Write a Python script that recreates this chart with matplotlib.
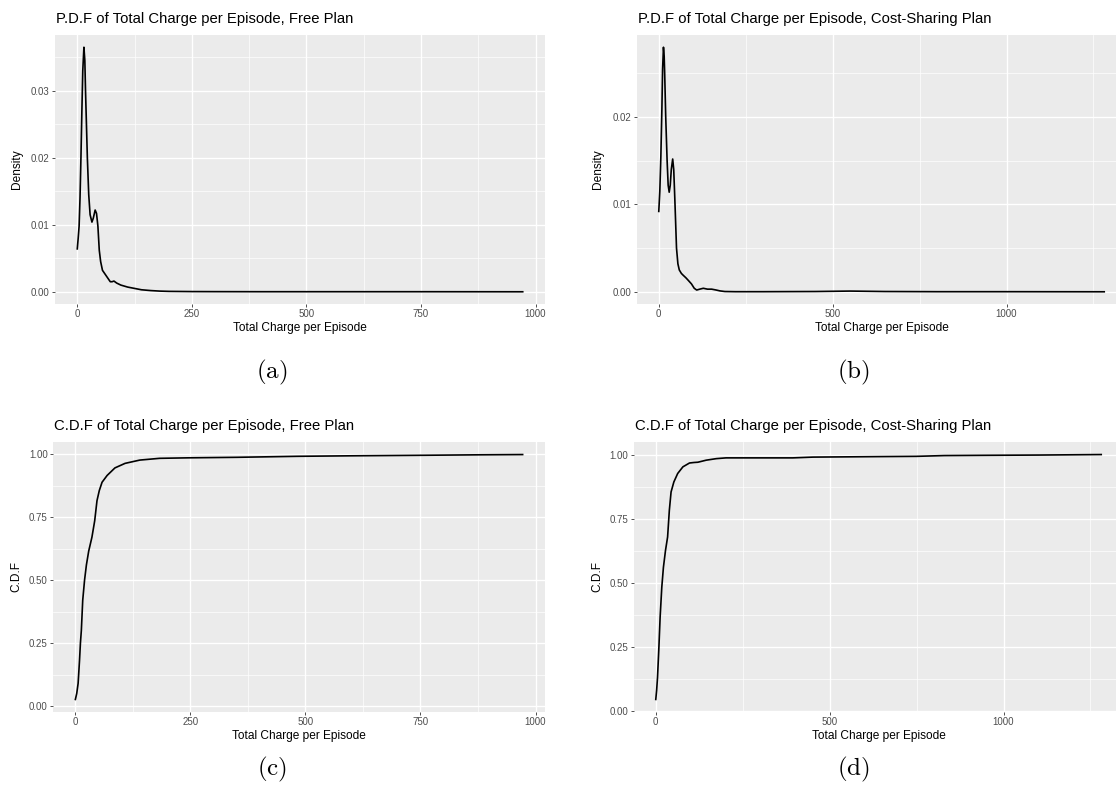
import numpy as np
import matplotlib
matplotlib.use("Agg")
import matplotlib.pyplot as plt
from matplotlib.ticker import MultipleLocator

plt.rcParams['font.family'] = ['Liberation Sans', 'DejaVu Sans']
plt.rcParams['mathtext.fontset'] = 'cm'

# density of total charge per episode, free plan
pdf_free_x = [0, 2, 4, 6, 8, 10, 12, 14.5, 16.5, 18, 20, 22, 25, 28, 32, 35, 39, 42, 45,
              48, 51, 55, 60, 66, 72, 76, 80, 86, 95, 110, 125, 140, 160, 180, 200,
              250, 300, 400, 500, 600, 750, 972]
pdf_free_y = [0.0064, 0.0080, 0.0098, 0.0140, 0.0200, 0.0268, 0.0330, 0.0365, 0.0345,
              0.0300, 0.0250, 0.0200, 0.0145, 0.0115, 0.0104, 0.0110, 0.0122, 0.0117,
              0.0098, 0.0062, 0.0045, 0.0032, 0.0027, 0.0021, 0.0015, 0.0015, 0.0016,
              0.0013, 0.0010, 0.0007, 0.0005, 0.0003, 0.00018, 0.0001, 0.00006,
              0.00003, 0.00002, 0.00001, 0.00001, 0.00001, 0.00001, 0.0]

# density, cost-sharing plan
pdf_cost_x = [0, 3, 6, 9, 11, 13.5, 15.5, 17, 20, 24, 27, 30, 33, 36, 40, 43, 46, 48, 51,
              55, 59, 65, 70, 78, 85, 94, 102, 109, 118, 128, 140, 152, 165, 176, 190,
              220, 300, 450, 550, 650, 800, 1000, 1281]
pdf_cost_y = [0.0092, 0.0115, 0.0155, 0.0210, 0.0255, 0.0280, 0.0270, 0.0250, 0.0200,
              0.0150, 0.0122, 0.0114, 0.0122, 0.0140, 0.0152, 0.0140, 0.0108, 0.0085,
              0.0050, 0.0032, 0.0025, 0.0021, 0.0019, 0.0016, 0.0013, 0.0009, 0.0004,
              0.0002, 0.0003, 0.0004, 0.0003, 0.0003, 0.0002, 0.0001, 0.00003,
              0.00001, 0.00001, 0.00003, 0.00008, 0.00003, 0.00001, 0.00001, 0.0]

# cumulative distribution, free plan
cdf_free_x = [0, 3, 6, 9, 11, 13, 16, 20, 24, 29, 36, 42, 47, 52, 58, 69, 86, 108, 140,
              183, 247, 350, 483, 600, 750, 880, 972]
cdf_free_y = [0.026, 0.05, 0.09, 0.18, 0.25, 0.30, 0.42, 0.50, 0.56, 0.615, 0.67, 0.735,
              0.815, 0.855, 0.888, 0.915, 0.945, 0.963, 0.976, 0.983, 0.985, 0.987,
              0.991, 0.993, 0.995, 0.997, 0.998]

# cumulative distribution, cost-sharing plan
cdf_cost_x = [0, 2.5, 5, 8.6, 12.5, 17.3, 22, 28, 34, 39, 44, 52, 63, 78, 97, 110, 121,
              145, 174, 202, 300, 394, 452, 550, 644, 750, 830, 950, 1100, 1281]
cdf_cost_y = [0.044, 0.08, 0.13, 0.235, 0.365, 0.482, 0.56, 0.626, 0.678, 0.782, 0.854,
              0.893, 0.926, 0.952, 0.967, 0.969, 0.970, 0.978, 0.984, 0.987, 0.987,
              0.987, 0.990, 0.991, 0.992, 0.993, 0.996, 0.997, 0.998, 1.0]

W, H = 1116, 797
fig = plt.figure(figsize=(W / 100, H / 100), dpi=100)


def panel(box, x, y, title, ylabel, xstep, ystep, tag, tag_xy, ylab_x):
    left, top, width, height = box
    ax = fig.add_axes([left / W, (H - top - height) / H, width / W, height / H])
    ax.set_facecolor('#EBEBEB')
    ax.plot(x, y, color='black', lw=1.2, zorder=3)

    # ggplot-style 5% expansion of the data range
    xr = max(x) - min(x)
    yr = max(y) - min(y)
    ax.set_xlim(min(x) - 0.05 * xr, max(x) + 0.05 * xr)
    ax.set_ylim(min(y) - 0.05 * yr, max(y) + 0.05 * yr)

    ax.xaxis.set_major_locator(MultipleLocator(xstep))
    ax.xaxis.set_minor_locator(MultipleLocator(xstep / 2))
    ax.yaxis.set_major_locator(MultipleLocator(ystep))
    ax.yaxis.set_minor_locator(MultipleLocator(ystep / 2))
    ax.yaxis.set_major_formatter(lambda v, p: '{:.2f}'.format(v))
    ax.xaxis.set_major_formatter(lambda v, p: '{:.0f}'.format(v))

    ax.grid(which='major', color='white', lw=1.0)
    ax.grid(which='minor', color='white', lw=0.5)
    ax.set_axisbelow(True)
    for s in ax.spines.values():
        s.set_visible(False)
    ax.tick_params(which='major', length=2.2, width=0.6, color='#333333',
                   labelsize=7, labelcolor='#4D4D4D', pad=1.5)
    ax.tick_params(which='minor', length=0)

    ax.set_xlabel('Total Charge per Episode', fontsize=8.6, labelpad=2)
    ax.set_ylabel(ylabel, fontsize=8.6)
    ax.yaxis.set_label_coords((ylab_x - left) / width, 0.5)
    ax.annotate(title, xy=(0, 1), xycoords='axes fraction', xytext=(1, 9),
                textcoords='offset points', fontsize=10.7, ha='left', va='baseline')
    fig.text(tag_xy[0] / W, 1 - tag_xy[1] / H, tag, fontsize=18,
             ha='center', va='center')
    return ax


panel((55, 35, 490, 269), pdf_free_x, pdf_free_y,
      'P.D.F of Total Charge per Episode, Free Plan', 'Density',
      250, 0.01, r'$\mathrm{(a)}$', (272, 372), 23)
panel((636.5, 35, 490, 269), pdf_cost_x, pdf_cost_y,
      'P.D.F of Total Charge per Episode, Cost-Sharing Plan', 'Density',
      500, 0.01, r'$\mathrm{(b)}$', (853, 372), 604)
panel((53, 442.3, 492, 269.4), cdf_free_x, cdf_free_y,
      'C.D.F of Total Charge per Episode, Free Plan', 'C.D.F',
      250, 0.25, r'$\mathrm{(c)}$', (272, 769), 22)
panel((633.5, 442.3, 490, 269.4), cdf_cost_x, cdf_cost_y,
      'C.D.F of Total Charge per Episode, Cost-Sharing Plan', 'C.D.F',
      500, 0.25, r'$\mathrm{(d)}$', (853, 769), 603)

fig.savefig('out.png', dpi=100)
